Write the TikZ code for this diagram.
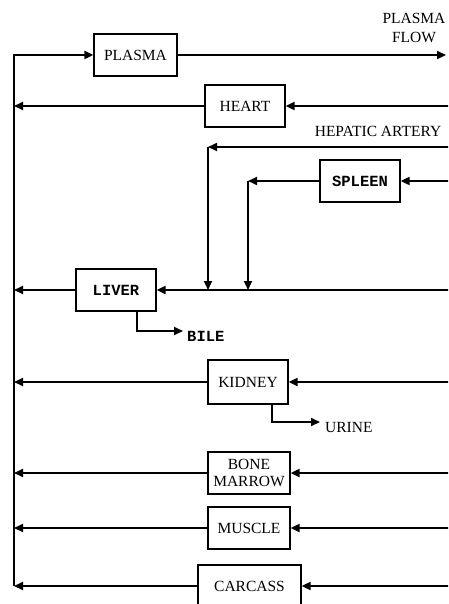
\documentclass[tikz,border=0pt]{standalone}
\usepackage{fontspec}
\setmainfont{Liberation Serif}
\newfontfamily\courfont{Liberation Mono}
\usepackage{tikz}
\usetikzlibrary{arrows.meta,positioning}

\begin{document}
\begin{tikzpicture}[
  x=1pt, y=-1pt,
  organ/.style={draw, line width=1.3pt, fill=white,
                align=center, inner sep=2pt,
                font=\fontsize{15.5}{17}\selectfont,
                minimum width=80pt, minimum height=42pt},
  slab/.style={font=\fontsize{15.5}{17}\selectfont\courfont\bfseries},
  lbl/.style={align=center, inner sep=0pt,
              font=\fontsize{15.5}{19}\selectfont},
  arr/.style={-{Triangle[length=9pt,width=8pt]}, line width=2pt},
]
  \useasboundingbox (0,0) rectangle (448,604);
  \clip (0,0) rectangle (448,604);

  %% ---- ORGANS ----
  \node[organ, minimum width=83pt] (plasma) at (135.5,55) {PLASMA};
  \node[organ] (heart)  at (245,106) {HEART};
  \node[organ, slab] (spleen) at (360,181) {SPLEEN};
  \node[organ, slab] (liver)  at (116,290) {LIVER};
  \node[organ, minimum height=44pt] (kidney) at (248,382) {KIDNEY};
  \node[organ, minimum width=82pt] (marrow) at (249,473) {BONE\\MARROW};
  \node[organ, minimum width=82pt] (muscle) at (249,528) {MUSCLE};
  \node[organ, minimum width=103pt] (carcass) at (249.5,586) {CARCASS};

  %% ---- LABELS ----
  \node[lbl] (flow) at (414,27.5) {PLASMA\\FLOW};
  \node[lbl] (hepatic) at (378,131) {HEPATIC ARTERY};
  \node[lbl, slab, anchor=north west, inner xsep=4pt] (bile) at (183,331) {BILE};
  \node[lbl, anchor=north west, inner xsep=5pt] (urine) at (320,422) {URINE};

  %% ---- SIDE POINTS ----
  \coordinate (bus-top) at (14,55);
  \coordinate (bus-bot) at (14,586);
  \coordinate (flow-out) at (446,55);
  \coordinate (heart-in) at (452,106);
  \coordinate (ha-in) at (452,147);
  \coordinate (ha) at (208,147);
  \coordinate (spleen-in) at (452,181);
  \coordinate (sp) at (248,181);
  \coordinate (liver-in) at (452,290);
  \coordinate (kidney-in) at (452,382);
  \coordinate (marrow-in) at (452,473);
  \coordinate (muscle-in) at (452,528);
  \coordinate (carcass-in) at (452,586);

  %% ---- FLOWS ----
  \draw[arr] (bus-bot) -- (bus-top) -- (plasma.west);
  \draw[arr] (plasma.east) -- (flow-out);
  \draw[arr] (ha-in) -- (ha);
  \draw[arr] (ha) -- (ha |- liver);
  \draw[arr] (spleen-in) -- (spleen.east);
  \draw[arr] (spleen.west) -- (sp);
  \draw[arr] (sp) -- (sp |- liver);
  \draw[arr] ([xshift=21pt]liver.south) |- (bile.north west);
  \draw[arr] ([xshift=24pt]kidney.south) |- (urine.north west);
  \foreach \o in {heart,liver,kidney,marrow,muscle,carcass}{
    \draw[arr] (\o-in) -- (\o.east);
    \draw[arr] (\o.west) -- (\o.west -| bus-top);
  }
\end{tikzpicture}
\end{document}
